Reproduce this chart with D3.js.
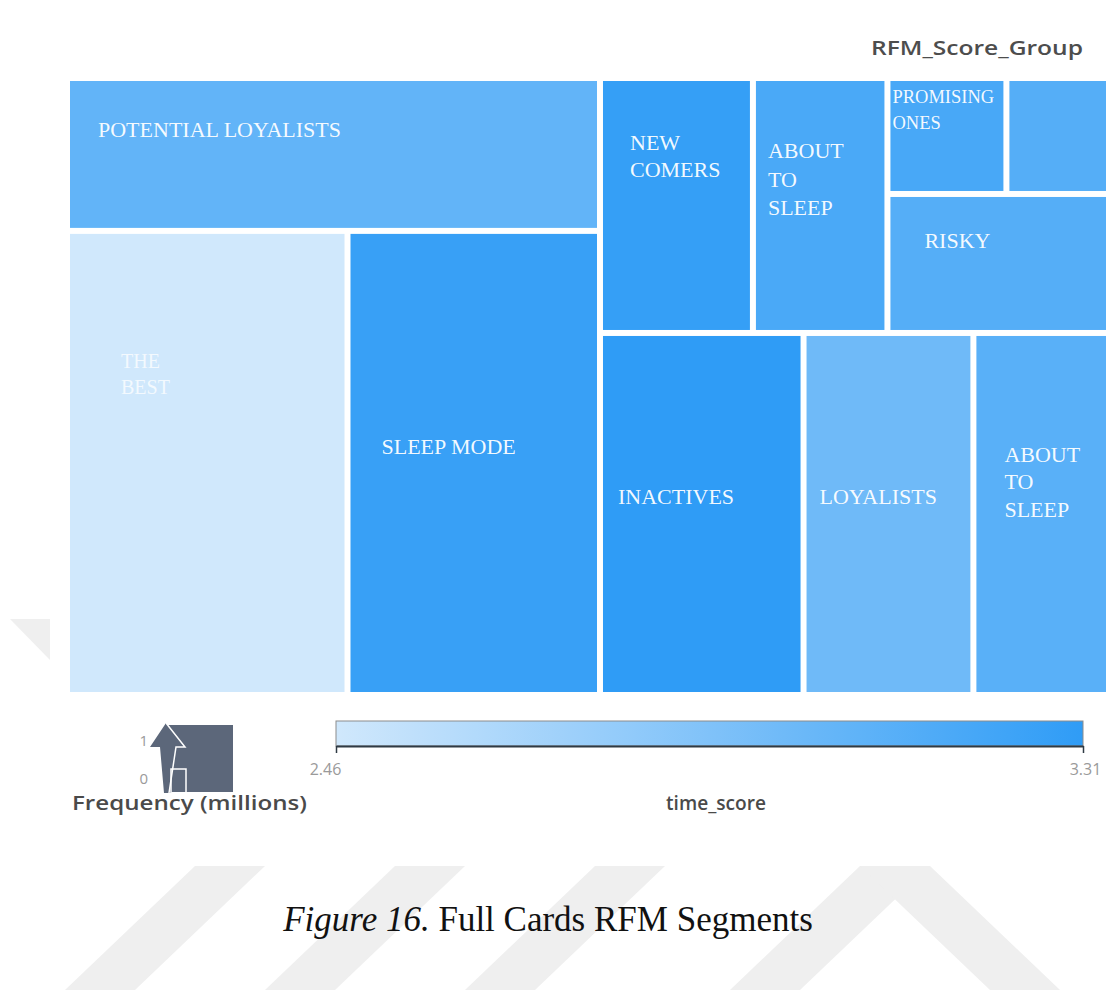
<!DOCTYPE html>
<html>
<head>
<meta charset="utf-8">
<script src="https://cdn.jsdelivr.net/npm/d3@7"></script>
<style>
  body { margin: 0; background: #ffffff; }
  svg { display: block; }
</style>
</head>
<body>
<svg id="chart" width="1108" height="990"></svg>
<script>
// RFM segments (size = frequency in thousands of cards, colour = mean time_score)
const segments  = ["POTENTIAL LOYALISTS", "THE BEST", "SLEEP MODE", "NEW COMERS", "ABOUT TO SLEEP",
                   "PROMISING ONES", "", "RISKY", "INACTIVES", "LOYALISTS", "ABOUT TO SLEEP"];
// nesting of each segment inside the treemap (groups are split alternately along x and y)
const groupPath = ["L", "L/B", "L/B", "R/T", "R/T", "R/T/C/P", "R/T/C/P", "R/T/C", "R/B", "R/B", "R/B"];
const frequency = [815, 1302, 1172, 390, 343, 138, 119, 308, 737, 615, 491];
const timeScore = [3.04, 2.46, 3.26, 3.28, 3.17, 3.18, 3.11, 3.11, 3.31, 2.97, 3.09];
const scoreDomain = [2.46, 3.31];
const sizeDomain = [0, 1];

// label placement inside each cell: offset of first baseline, font size, line height, wrap words
const labelPlacement = [
  { dx: 28, dy: 56,  size: 22, lh: 27,   wrap: false },
  { dx: 51, dy: 134, size: 20, lh: 26,   wrap: true, faint: true },
  { dx: 31, dy: 220, size: 22, lh: 27,   wrap: false },
  { dx: 27, dy: 69,  size: 22, lh: 27,   wrap: true },
  { dx: 12, dy: 77,  size: 22, lh: 28.5, wrap: true },
  { dx: 2,  dy: 22,  size: 18.5, lh: 26, wrap: true },
  { dx: 0,  dy: 0,   size: 22, lh: 27,   wrap: false },
  { dx: 34, dy: 51,  size: 22, lh: 27,   wrap: false },
  { dx: 15, dy: 168, size: 22, lh: 27,   wrap: false },
  { dx: 13, dy: 168, size: 22, lh: 27,   wrap: false },
  { dx: 28, dy: 126, size: 22, lh: 27.5, wrap: true }
];

const svg = d3.select("#chart");

// faint page watermark behind the figure
const wm = svg.append("g").attr("fill", "#efefef");
const wmShapes = [
  [[10, 619], [50, 619], [50, 660]],
  [[195, 866], [265, 866], [135, 990], [65, 990]],
  [[395, 866], [465, 866], [335, 990], [265, 990]],
  [[595, 866], [665, 866], [535, 990], [465, 990]],
  [[860, 866], [930, 866], [800, 990], [730, 990]],
  [[860, 866], [930, 866], [1060, 990], [990, 990]]
];
wm.selectAll("polygon").data(wmShapes).join("polygon")
  .attr("points", d => d.map(p => p.join(",")).join(" "));

// colour scale for time_score
const color = d3.scaleLinear().domain(scoreDomain).range(["#d0e8fc", "#2f9cf6"]);

// build the nested structure from the group paths
const tree = { key: "root", children: [] };
segments.forEach((name, i) => {
  let node = tree;
  groupPath[i].split("/").forEach(key => {
    let child = node.children.find(c => c.key === key && c.children);
    if (!child) { child = { key, children: [] }; node.children.push(child); }
    node = child;
  });
  node.children.push({ name, index: i, value: frequency[i] });
});

const root = d3.hierarchy(tree).sum(d => d.value || 0);
d3.treemap()
  .tile(d3.treemapSliceDice)
  .size([1036, 611])
  .paddingInner(6)(root);

const plot = svg.append("g").attr("transform", "translate(70,81)");
const cells = plot.selectAll("g.cell").data(root.leaves()).join("g")
  .attr("class", "cell")
  .attr("transform", d => `translate(${d.x0},${d.y0})`);

cells.append("rect")
  .attr("width", d => d.x1 - d.x0)
  .attr("height", d => d.y1 - d.y0)
  .attr("fill", d => color(timeScore[d.data.index]));

cells.each(function (d) {
  const i = d.data.index;
  const name = segments[i];
  if (!name) return;
  const p = labelPlacement[i];
  const lines = p.wrap ? name.split(" ") : [name];
  const t = d3.select(this).append("text")
    .attr("x", p.dx).attr("y", p.dy)
    .attr("font-family", "'Liberation Serif', 'Times New Roman', serif")
    .attr("font-size", p.size)
    .attr("fill", "#ffffff")
    .attr("fill-opacity", p.faint ? 0.75 : 0.95);
  lines.forEach((ln, k) => {
    t.append("tspan").attr("x", p.dx).attr("dy", k === 0 ? 0 : p.lh).text(ln);
  });
});

// group title
svg.append("text")
  .attr("x", 1083).attr("y", 55)
  .attr("text-anchor", "end")
  .attr("font-family", "'Open Sans', sans-serif")
  .attr("font-weight", 600)
  .attr("font-size", 19)
  .attr("fill", "#4d4d4d")
  .attr("textLength", 212).attr("lengthAdjust", "spacingAndGlyphs")
  .text("RFM_Score_Group");

// size legend
const ySize = d3.scaleLinear().domain(sizeDomain).range([779, 741]);
const sizeLeg = svg.append("g");
sizeLeg.selectAll("text").data(sizeDomain).join("text")
  .attr("x", 148).attr("y", d => ySize(d)).attr("dy", "0.35em")
  .attr("text-anchor", "end")
  .attr("font-family", "'Open Sans', sans-serif")
  .attr("font-size", 15)
  .attr("fill", "#9a9a9a")
  .text(d => d);
sizeLeg.append("rect").attr("x", 167).attr("y", 725).attr("width", 66).attr("height", 67).attr("fill", "#5c677a");
sizeLeg.append("path")
  .attr("d", "M166,723 L150,747 L160,747 L164,793 L172,793 L176,747 L185,747 Z")
  .attr("fill", "#5c677a");
sizeLeg.append("path")
  .attr("d", "M166,723 L185,747 L176,747 L169,793")
  .attr("fill", "none").attr("stroke", "#ffffff").attr("stroke-width", 1.5);
sizeLeg.append("rect").attr("x", 171).attr("y", 769).attr("width", 15).attr("height", 24)
  .attr("fill", "none").attr("stroke", "#ffffff").attr("stroke-width", 1.5);

svg.append("text")
  .attr("x", 72).attr("y", 810)
  .attr("font-family", "'Open Sans', sans-serif")
  .attr("font-weight", 600)
  .attr("font-size", 19)
  .attr("fill", "#4a4a4a")
  .attr("textLength", 235).attr("lengthAdjust", "spacingAndGlyphs")
  .text("Frequency (millions)");

// colour legend
const xScore = d3.scaleLinear().domain(scoreDomain).range([336, 1083]);
const defs = svg.append("defs");
const grad = defs.append("linearGradient").attr("id", "scoreGrad");
d3.range(0, 1.0001, 0.1).forEach(t => {
  const v = scoreDomain[0] + t * (scoreDomain[1] - scoreDomain[0]);
  grad.append("stop").attr("offset", t).attr("stop-color", color(v));
});
svg.append("rect")
  .attr("x", xScore(scoreDomain[0])).attr("y", 721)
  .attr("width", xScore(scoreDomain[1]) - xScore(scoreDomain[0])).attr("height", 25)
  .attr("fill", "url(#scoreGrad)")
  .attr("stroke", "#8c8c8c").attr("stroke-width", 1);

const axis = svg.append("g").attr("transform", "translate(0,746)")
  .call(d3.axisBottom(xScore).tickValues(scoreDomain).tickFormat(d3.format(".2f")).tickSize(7).tickSizeOuter(0));
axis.select(".domain").attr("stroke", "#2f3a44").attr("stroke-width", 2);
axis.selectAll(".tick line").attr("stroke", "#2f3a44").attr("stroke-width", 1.5);
axis.selectAll(".tick text")
  .attr("font-family", "'Open Sans', sans-serif")
  .attr("font-size", 16)
  .attr("fill", "#9a9a9a")
  .attr("dy", "1.2em")
  .attr("dx", (d, i) => (i === 0 ? -11 : 2));

svg.append("text")
  .attr("x", 716).attr("y", 810)
  .attr("text-anchor", "middle")
  .attr("font-family", "'Open Sans', sans-serif")
  .attr("font-weight", 600)
  .attr("font-size", 19)
  .attr("fill", "#4a4a4a")
  .attr("textLength", 100).attr("lengthAdjust", "spacingAndGlyphs")
  .text("time_score");

// figure caption
const cap = svg.append("text")
  .attr("x", 548).attr("y", 931)
  .attr("text-anchor", "middle")
  .attr("font-family", "'Liberation Serif', 'Times New Roman', serif")
  .attr("font-size", 35)
  .attr("fill", "#111111");
cap.append("tspan").attr("font-style", "italic").text("Figure 16.");
cap.append("tspan").text(" Full Cards RFM Segments");
</script>
</body>
</html>
